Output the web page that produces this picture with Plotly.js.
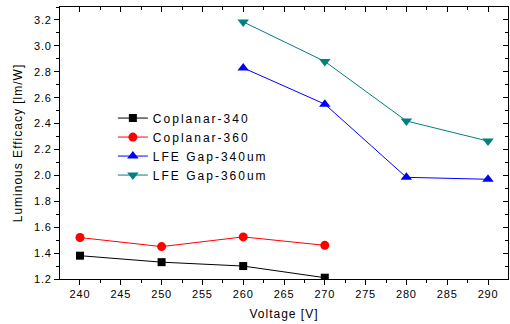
<!DOCTYPE html>
<html><head><meta charset="utf-8">
<script src="https://cdn.plot.ly/plotly-3.0.1.min.js"></script>
<style>
body{margin:0;padding:0;background:#fff;}
#chart{width:510px;height:324px;}
.legendtext{letter-spacing:2px;}
.xtick text,.ytick text{letter-spacing:0.8px;}
.g-xtitle text,.g-ytitle text{letter-spacing:1px;}
</style>
</head><body>
<div id="chart"></div>
<script>
const voltage = [240, 250, 260, 270, 280, 290];
const coplanar340 = [1.38, 1.33, 1.30, 1.21];
const coplanar360 = [1.52, 1.45, 1.525, 1.46];
const lfeVoltage = [260, 270, 280, 290];
const lfe340 = [2.83, 2.55, 1.985, 1.97];
const lfe360 = [3.185, 2.88, 2.42, 2.265];
const seriesNames = ['Coplanar-340', 'Coplanar-360', 'LFE Gap-340um', 'LFE Gap-360um'];

const f = 'Liberation Sans, Arial, sans-serif';
const traces = [
  {x: voltage.slice(0,4), y: coplanar340, name: seriesNames[0], mode: 'lines+markers',
   line: {color: '#000000', width: 1}, marker: {symbol: 'square', size: 8, color: '#000000'}},
  {x: voltage.slice(0,4), y: coplanar360, name: seriesNames[1], mode: 'lines+markers',
   line: {color: '#ff0000', width: 1}, marker: {symbol: 'circle', size: 9, color: '#ff0000'}},
  {x: lfeVoltage, y: lfe340, name: seriesNames[2], mode: 'lines+markers',
   line: {color: '#0000ff', width: 1}, marker: {symbol: 'triangle-up', size: 10, color: '#0000ff'}},
  {x: lfeVoltage, y: lfe360, name: seriesNames[3], mode: 'lines+markers',
   line: {color: '#008080', width: 1}, marker: {symbol: 'triangle-down', size: 10, color: '#008080'}},
  {x: [240], y: [1.2], xaxis: 'x2', yaxis: 'y2', showlegend: false, mode: 'markers',
   marker: {opacity: 0}, hoverinfo: 'skip'}
];
const axCommon = {
  showgrid: false, zeroline: false, showline: true, linecolor: '#000', linewidth: 1,
  ticklen: 5, tickcolor: '#000', tickwidth: 1,
  tickfont: {family: f, size: 11, color: '#000'}
};
const layout = {
  width: 510, height: 324,
  margin: {l: 60, r: 2, t: 7, b: 45},
  paper_bgcolor: '#fff', plot_bgcolor: '#fff',
  showlegend: true,
  legend: {x: 0.118, y: 0.645, xanchor: 'left', yanchor: 'top', bgcolor: 'rgba(0,0,0,0)',
           font: {family: f, size: 12, color: '#000'}, tracegroupgap: 0, itemwidth: 30},
  xaxis: Object.assign({}, axCommon, {
    range: [237.55, 292.45], tickmode: 'linear', tick0: 240, dtick: 5, ticks: 'outside',
    minor: {dtick: 2.5, ticklen: 3, ticks: 'outside', tickcolor: '#000'},
    title: {text: 'Voltage [V]', font: {family: f, size: 12, color: '#000'}, standoff: 10}
  }),
  yaxis: Object.assign({}, axCommon, {
    range: [1.2, 3.3], tickmode: 'linear', tick0: 1.2, dtick: 0.2, ticks: 'outside',
    tickformat: '.1f',
    minor: {dtick: 0.1, ticklen: 3, ticks: 'outside', tickcolor: '#000'},
    title: {text: 'Luminous Efficacy [lm/W]', font: {family: f, size: 12, color: '#000'}, standoff: 8}
  }),
  xaxis2: Object.assign({}, axCommon, {
    overlaying: 'x', side: 'top', matches: 'x', range: [237.55, 292.45],
    tickmode: 'linear', tick0: 240, dtick: 5, ticks: 'inside', showticklabels: false,
    minor: {dtick: 2.5, ticklen: 3, ticks: 'inside', tickcolor: '#000'}
  }),
  yaxis2: Object.assign({}, axCommon, {
    overlaying: 'y', side: 'right', matches: 'y', range: [1.2, 3.3],
    tickmode: 'linear', tick0: 1.2, dtick: 0.2, ticks: 'inside', showticklabels: false,
    minor: {dtick: 0.1, ticklen: 3, ticks: 'inside', tickcolor: '#000'}
  })
};
Plotly.newPlot('chart', traces, layout, {displayModeBar: false, staticPlot: true});
</script>
</body></html>
